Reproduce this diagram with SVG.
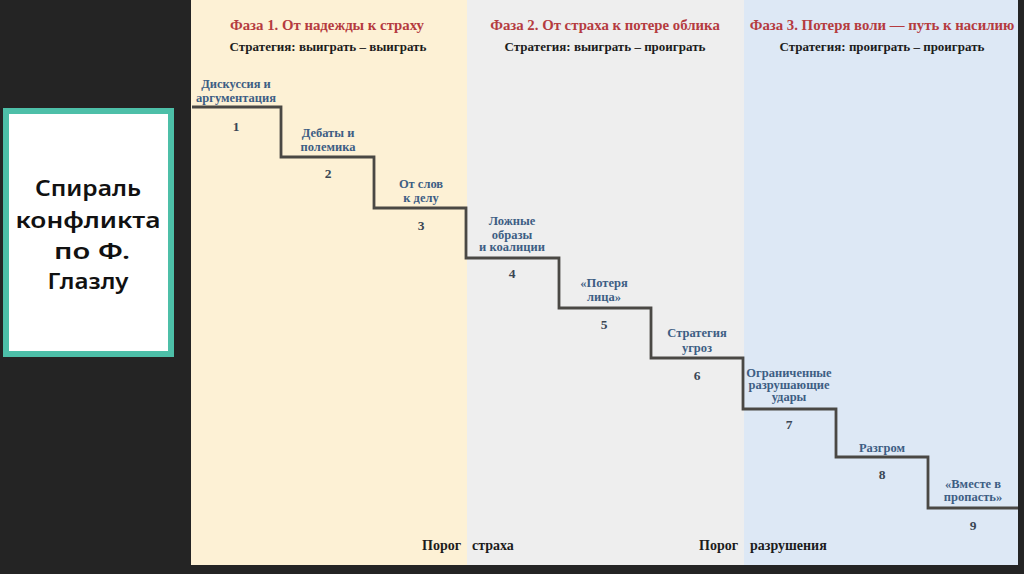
<svg xmlns="http://www.w3.org/2000/svg" width="1024" height="574" viewBox="0 0 1024 574">
<style>
.ph{font-family:"Liberation Serif",serif;font-weight:bold;font-size:14.8px;fill:#B53B3F;text-anchor:middle}
.st{font-family:"Liberation Serif",serif;font-weight:bold;font-size:13px;fill:#1c1c1c;text-anchor:middle}
.lb{font-family:"Liberation Serif",serif;font-weight:bold;font-size:12.5px;fill:#3D5E84;text-anchor:middle}
.nm{font-family:"Liberation Serif",serif;font-weight:bold;font-size:13.5px;fill:#3a4654;text-anchor:middle}
.th{font-family:"Liberation Serif",serif;font-weight:bold;font-size:14px;fill:#1c1c1c}
.ti{font-family:"Noto Sans","DejaVu Sans",sans-serif;font-weight:600;font-size:22px;fill:#111;text-anchor:middle}
</style>
<rect width="1024" height="574" fill="#242424"/>
<g id="panel">
<rect x="191" y="0" width="276" height="565" fill="#FDF1D5"/>
<rect x="467" y="0" width="277" height="565" fill="#EEEEEE"/>
<rect x="744" y="0" width="274" height="565" fill="#DDE8F5"/>
</g>
<g id="title-box">
<rect x="6" y="111" width="165" height="243" fill="#FFFFFF" stroke="#4DBFA8" stroke-width="6"/>
<text class="ti" x="88" y="196" textLength="106" lengthAdjust="spacingAndGlyphs">Спираль</text>
<text class="ti" x="88" y="228" textLength="145" lengthAdjust="spacingAndGlyphs">конфликта</text>
<text class="ti" x="92" y="259" textLength="76" lengthAdjust="spacingAndGlyphs">по Ф.</text>
<text class="ti" x="88" y="289" textLength="81" lengthAdjust="spacingAndGlyphs">Глазлу</text>
</g>
<g id="phase1">
<text class="ph" x="327" y="30">Фаза 1. От надежды к страху</text>
<text class="st" x="328" y="51">Стратегия: выиграть – выиграть</text>
</g>
<g id="phase2">
<text class="ph" x="605" y="30">Фаза 2. От страха к потере облика</text>
<text class="st" x="605" y="51">Стратегия: выиграть – проиграть</text>
</g>
<g id="phase3">
<text class="ph" x="882" y="30">Фаза 3. Потеря воли — путь к насилию</text>
<text class="st" x="882" y="51">Стратегия: проиграть – проиграть</text>
</g>
<g id="connectors">
<polyline points="192,107 281,107 281,157 374,157 374,208 466,208 466,258 559,258 559,308 651,308 651,358 743,358 743,409 836,409 836,457 928,457 928,508 1018,508" fill="none" stroke="#4a4844" stroke-width="2.8"/>
</g>
<g id="step1"><text class="lb" x="236" y="88">Дискуссия и</text><text class="lb" x="236" y="102">аргументация</text><text class="nm" x="236" y="131">1</text></g>
<g id="step2"><text class="lb" x="328" y="137">Дебаты и</text><text class="lb" x="328" y="151">полемика</text><text class="nm" x="328" y="178">2</text></g>
<g id="step3"><text class="lb" x="421" y="188">От слов</text><text class="lb" x="421" y="202">к делу</text><text class="nm" x="421" y="230">3</text></g>
<g id="step4"><text class="lb" x="512" y="225">Ложные</text><text class="lb" x="512" y="239">образы</text><text class="lb" x="512" y="251">и коалиции</text><text class="nm" x="512" y="278">4</text></g>
<g id="step5"><text class="lb" x="604" y="287">«Потеря</text><text class="lb" x="604" y="301">лица»</text><text class="nm" x="604" y="329">5</text></g>
<g id="step6"><text class="lb" x="697" y="337">Стратегия</text><text class="lb" x="697" y="352">угроз</text><text class="nm" x="697" y="380">6</text></g>
<g id="step7"><text class="lb" x="789" y="377">Ограниченные</text><text class="lb" x="789" y="389">разрушающие</text><text class="lb" x="789" y="401">удары</text><text class="nm" x="789" y="429">7</text></g>
<g id="step8"><text class="lb" x="882" y="452">Разгром</text><text class="nm" x="882" y="479">8</text></g>
<g id="step9"><text class="lb" x="973" y="488">«Вместе в</text><text class="lb" x="973" y="501">пропасть»</text><text class="nm" x="973" y="530">9</text></g>
<g id="thresholds">
<text class="th" x="422" y="550">Порог</text><text class="th" x="472" y="550">страха</text>
<text class="th" x="699" y="550">Порог</text><text class="th" x="750" y="550">разрушения</text>
</g>
</svg>
